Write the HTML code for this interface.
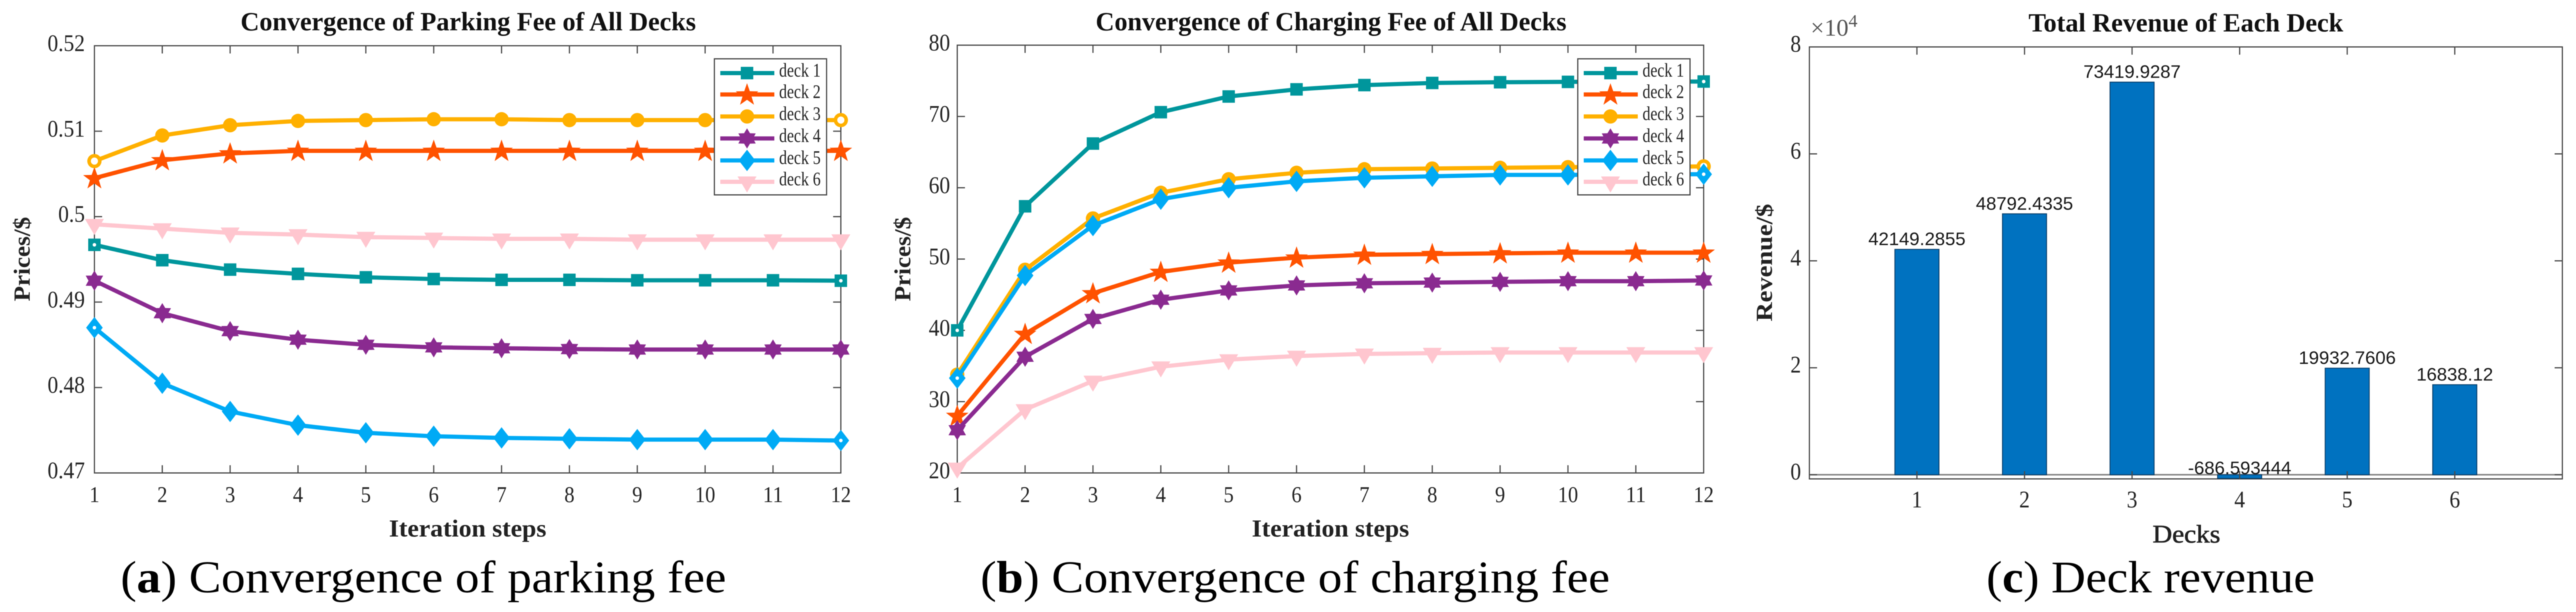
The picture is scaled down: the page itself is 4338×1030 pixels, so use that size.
<!DOCTYPE html>
<html lang="en">
<head>
<meta charset="utf-8">
<title>Convergence of fees and deck revenue</title>
<style>
html,body{margin:0;padding:0;background:#fff;width:4338px;height:1030px;overflow:hidden}
svg{display:block;filter:blur(.7px)}
text{font-family:"Liberation Serif",serif;fill:#262626}
</style>
</head>
<body>
<svg id="figure" xmlns="http://www.w3.org/2000/svg" width="4338" height="1030" viewBox="0 0 4338 1030"></svg>
<script>
const iterationSteps = [1,2,3,4,5,6,7,8,9,10,11,12];
const deckNames = ['deck 1','deck 2','deck 3','deck 4','deck 5','deck 6'];
const deckColors = ['#00969C','#FF5200','#FFB000','#8A2A90','#00AAF5','#FFC6CF'];
const deckMarkers = ['square','star','circle','hexagram','diamond','triangle'];

const parkingDeck1 = [.4967,.4949,.4938,.4933,.4929,.4927,.4926,.4926,.49255,.49255,.49255,.4925];
const parkingDeck2 = [.5045,.5066,.5074,.5077,.5077,.5077,.5077,.5077,.5077,.5077,.5077,.5077];
const parkingDeck3 = [.5065,.5095,.5107,.5112,.5113,.5114,.5114,.5113,.5113,.5113,.5113,.5113];
const parkingDeck4 = [.4925,.4887,.4866,.4856,.485,.4847,.4846,.4845,.48445,.48445,.48445,.48445];
const parkingDeck5 = [.487,.4805,.4772,.4756,.4747,.4743,.4741,.474,.4739,.4739,.4739,.4738];
const parkingDeck6 = [.4991,.4986,.4981,.4979,.4976,.4975,.4974,.4974,.4973,.4973,.4973,.4973];
const parkingTicks = [.47,.48,.49,.5,.51,.52];
const parkingTickLabels = ['0.47','0.48','0.49','0.5','0.51','0.52'];

const chargingDeck1 = [40,57.4,66.2,70.6,72.8,73.8,74.4,74.7,74.8,74.85,74.9,74.9];
const chargingDeck2 = [28,39.5,45.2,48.2,49.5,50.2,50.6,50.7,50.8,50.9,50.9,50.9];
const chargingDeck3 = [33.8,48.5,55.7,59.3,61.2,62.1,62.6,62.7,62.8,62.9,62.9,63];
const chargingDeck4 = [26,36.3,41.6,44.3,45.6,46.3,46.6,46.7,46.8,46.9,46.9,47];
const chargingDeck5 = [33.3,47.7,54.7,58.4,60,60.9,61.4,61.6,61.8,61.8,61.9,61.9];
const chargingDeck6 = [20.7,28.9,32.9,34.9,35.9,36.4,36.7,36.8,36.9,36.9,36.9,36.9];
const chargingTicks = [20,30,40,50,60,70,80];
const chargingTickLabels = ['20','30','40','50','60','70','80'];

const revenueDecks = [1,2,3,4,5,6];
const revenueValues = [42149.2855,48792.4335,73419.9287,-686.593444,19932.7606,16838.12];
const revenueTicks = [0,20000,40000,60000,80000];
const revenueTickLabels = ['0','2','4','6','8'];

const NS = 'http://www.w3.org/2000/svg';
const root = document.getElementById('figure');
const AXIS = '#4a4a4a';

function mk(parent, tag, attrs, name, interactable) {
  const el = document.createElementNS(NS, tag);
  for (const k in attrs) el.setAttribute(k, attrs[k]);
  
  
  parent.appendChild(el);
  return el;
}
function label(parent, name, str, x, y, o) {
  o = o || {};
  const a = {x: x, y: y, 'font-size': o.size || 38, 'text-anchor': o.anchor || 'middle'};
  if (o.weight) a['font-weight'] = o.weight;
  if (o.family) a.style = 'font-family:' + o.family;
  if (o.fill) a.style = (a.style ? a.style + ';' : '') + 'fill:' + o.fill;
  if (o.len) { a.textLength = o.len; a.lengthAdjust = 'spacingAndGlyphs'; }
  if (o.rotate) a.transform = 'rotate(' + o.rotate + ' ' + x + ' ' + y + ')';
  if (o.heavy) { a.stroke = '#222'; a['stroke-width'] = o.heavy; }
  const t = mk(parent, 'text', a, name, false);
  t.textContent = str;
  return t;
}
function numLen(str, size) {
  let w = 0;
  for (const c of str) w += (c === '.' ? .25 : .5);
  return w * size * .9;
}
function radial(cx, cy, points, outer, inner) {
  const out = [];
  for (let i = 0; i < points * 2; i++) {
    const r = i % 2 ? inner : outer;
    const ang = -Math.PI / 2 + i * Math.PI / points;
    out.push((cx + r * Math.cos(ang)).toFixed(1) + ',' + (cy + r * Math.sin(ang)).toFixed(1));
  }
  return out.join(' ');
}
function marker(parent, kind, cx, cy, color, name, hollow) {
  if (kind === 'square') mk(parent, 'rect', {x: cx - 10.5, y: cy - 10.5, width: 21, height: 21, fill: color}, name, false);
  if (kind === 'circle') mk(parent, 'circle', {cx: cx, cy: cy, r: 12, fill: color}, name, false);
  if (kind === 'star') mk(parent, 'polygon', {points: radial(cx, cy + 1, 5, 20, 8), fill: color}, name, false);
  if (kind === 'hexagram') mk(parent, 'polygon', {points: radial(cx, cy, 6, 17, 10), fill: color}, name, false);
  if (kind === 'diamond') mk(parent, 'polygon', {points: [cx, cy - 18, cx + 14, cy, cx, cy + 18, cx - 14, cy].join(' '), fill: color}, name, false);
  if (kind === 'triangle') mk(parent, 'polygon', {points: [cx - 16, cy - 9, cx + 16, cy - 9, cx, cy + 18].join(' '), fill: color}, name, false);
  if (hollow) {
    const r = kind === 'circle' ? 6 : 3;
    if (kind === 'square' || kind === 'circle' || kind === 'diamond') {
      mk(parent, 'circle', {cx: cx, cy: cy, r: r, fill: '#fff'}, name + '-center', false);
    }
  }
}
function frame(g, b) {
  mk(g, 'rect', {x: b.l, y: b.t, width: b.r - b.l, height: b.b - b.t, fill: 'none', stroke: AXIS, 'stroke-width': 2}, 'plot-frame', false);
}
function xTick(g, px, b) {
  mk(g, 'line', {x1: px, x2: px, y1: b.b, y2: b.b - 13, stroke: AXIS, 'stroke-width': 2}, 'x-tick-bottom', false);
  mk(g, 'line', {x1: px, x2: px, y1: b.t, y2: b.t + 13, stroke: AXIS, 'stroke-width': 2}, 'x-tick-top', false);
}
function yTick(g, py, b) {
  mk(g, 'line', {x1: b.l, x2: b.l + 13, y1: py, y2: py, stroke: AXIS, 'stroke-width': 2}, 'y-tick-left', false);
  mk(g, 'line', {x1: b.r, x2: b.r - 13, y1: py, y2: py, stroke: AXIS, 'stroke-width': 2}, 'y-tick-right', false);
}
function lineChart(cfg) {
  const g = mk(root, 'g', {}, cfg.name, false);
  const b = cfg.box;
  const n = iterationSteps.length;
  const X = v => b.l + (v - iterationSteps[0]) / (iterationSteps[n - 1] - iterationSteps[0]) * (b.r - b.l);
  const lo = cfg.yTicks[0], hi = cfg.yTicks[cfg.yTicks.length - 1];
  const Y = v => b.b - (v - lo) / (hi - lo) * (b.b - b.t);
  frame(g, b);
  iterationSteps.forEach(s => {
    xTick(g, X(s), b);
    label(g, 'x-tick-label', String(s), X(s), 845, {size: 38, len: numLen(String(s), 38)});
  });
  cfg.yTicks.forEach((v, i) => {
    yTick(g, Y(v), b);
    const s = cfg.yLabels[i];
    label(g, 'y-tick-label', s, cfg.yLabelRight, Y(v) + 9, {size: 40, anchor: 'end', len: numLen(s, 40)});
  });
  cfg.series.forEach((vals, d) => {
    const sg = mk(g, 'g', {}, 'series-' + deckNames[d].replace(' ', '-'), false);
    const pts = vals.map((v, i) => X(iterationSteps[i]).toFixed(1) + ',' + Y(v).toFixed(1)).join(' ');
    mk(sg, 'polyline', {points: pts, fill: 'none', stroke: deckColors[d], 'stroke-width': 7, 'stroke-linejoin': 'round'}, 'series-line', false);
    vals.forEach((v, i) => {
      marker(sg, deckMarkers[d], X(iterationSteps[i]), Y(v), deckColors[d], 'series-marker', i === 0 || i === n - 1);
    });
  });
  label(g, 'chart-title', cfg.title, cfg.titleX, 51, {size: 44, weight: 'bold', anchor: 'start', len: cfg.titleLen, fill: '#111'});
  label(g, 'x-axis-title', 'Iteration steps', cfg.xTitleX, 903, {size: 41, weight: 'bold', anchor: 'start', len: 265, fill: '#222'});
  label(g, 'y-axis-title', 'Prices/$', cfg.yTitleX, 436, {size: 39, weight: 'bold', len: 142, rotate: -90, fill: '#222'});
  const lg = mk(g, 'g', {}, 'legend', false);
  const lx = cfg.legendX;
  mk(lg, 'rect', {x: lx, y: 99, width: 189, height: 229, fill: '#fff', stroke: AXIS, 'stroke-width': 2}, 'legend-box', false);
  const rows = [123, 159, 196, 233, 270, 306];
  deckNames.forEach((nm, d) => {
    const row = mk(lg, 'g', {}, 'legend-entry', false);
    mk(row, 'line', {x1: lx + 10, x2: lx + 101, y1: rows[d], y2: rows[d], stroke: deckColors[d], 'stroke-width': 7}, 'legend-line', false);
    marker(row, deckMarkers[d], lx + 55, rows[d], deckColors[d], 'legend-marker', false);
    label(row, 'legend-label', nm, lx + 109, rows[d] + 6, {size: 33, anchor: 'start', len: 70});
  });
}

lineChart({
  name: 'parking-fee-chart',
  box: {l: 159, r: 1416, t: 77, b: 796},
  yTicks: parkingTicks, yLabels: parkingTickLabels, yLabelRight: 143,
  series: [parkingDeck1, parkingDeck2, parkingDeck3, parkingDeck4, parkingDeck5, parkingDeck6],
  title: 'Convergence of Parking Fee of All Decks', titleX: 405, titleLen: 767,
  xTitleX: 655, yTitleX: 50, legendX: 1203
});
lineChart({
  name: 'charging-fee-chart',
  box: {l: 1612, r: 2869, t: 76, b: 796},
  yTicks: chargingTicks, yLabels: chargingTickLabels, yLabelRight: 1600,
  series: [chargingDeck1, chargingDeck2, chargingDeck3, chargingDeck4, chargingDeck5, chargingDeck6],
  title: 'Convergence of Charging Fee of All Decks', titleX: 1845, titleLen: 793,
  xTitleX: 2108, yTitleX: 1533, legendX: 2657
});

(function revenueChart() {
  const g = mk(root, 'g', {}, 'revenue-chart', false);
  const b = {l: 3047, r: 4315, t: 79, b: 806};
  const X = v => b.l + v / 7 * (b.r - b.l);
  const Y = v => 799 - v / 80000 * 720;
  frame(g, b);
  mk(g, 'line', {x1: b.l, x2: b.r, y1: Y(0), y2: Y(0), stroke: '#808080', 'stroke-width': 2.5}, 'zero-baseline', false);
  revenueTicks.forEach((v, i) => {
    yTick(g, Y(v), b);
    label(g, 'y-tick-label', revenueTickLabels[i], 3033, Y(v) + 8, {size: 40, anchor: 'end', len: 18});
  });
  const barW = .41 * (b.r - b.l) / 7;
  revenueValues.forEach((v, i) => {
    const px = X(revenueDecks[i]);
    mk(g, 'rect', {x: px - barW / 2, y: Math.min(Y(v), Y(0)), width: barW, height: Math.abs(Y(v) - Y(0)), fill: '#0072C0', stroke: '#0a3f6b', 'stroke-width': 1.5}, 'bar-deck-' + revenueDecks[i], false);
  });
  revenueDecks.forEach(d => {
    xTick(g, X(d), b);
    label(g, 'x-tick-label', String(d), X(d), 854, {size: 40, len: 18});
  });
  revenueValues.forEach((v, i) => {
    const py = v < 0 ? Y(0) - 1 : Y(v) - 7;
    label(g, 'bar-value-label', String(v), X(revenueDecks[i]), py, {size: 31, family: '"Liberation Sans",sans-serif', fill: '#1a1a1a'});
  });
  label(g, 'exponent-base', '×10', 3049, 60, {size: 40, anchor: 'start', len: 64, fill: '#555'});
  label(g, 'exponent-power', '4', 3113, 45, {size: 30, anchor: 'start', len: 15, fill: '#555'});
  label(g, 'chart-title', 'Total Revenue of Each Deck', 3416, 53, {size: 44, weight: 'bold', anchor: 'start', len: 530, fill: '#111'});
  label(g, 'x-axis-title', 'Decks', 3625, 913, {size: 42, anchor: 'start', len: 114, fill: '#222', heavy: .8});
  label(g, 'y-axis-title', 'Revenue/$', 2984, 442, {size: 39, weight: 'bold', len: 198, rotate: -90, fill: '#222'});
})();

function caption(name, letter, rest, x, len) {
  const t = mk(root, 'text', {x: x, y: 997, 'font-size': 76, textLength: len, lengthAdjust: 'spacingAndGlyphs', style: 'fill:#000'}, name, false);
  t.appendChild(document.createTextNode('('));
  const b = mk(t, 'tspan', {'font-weight': 'bold'}, name + '-letter', false);
  b.textContent = letter;
  t.appendChild(document.createTextNode(') ' + rest));
}
caption('caption-a', 'a', 'Convergence of parking fee', 203, 1020);
caption('caption-b', 'b', 'Convergence of charging fee', 1651, 1060);
caption('caption-c', 'c', 'Deck revenue', 3345, 553);
</script>
</body>
</html>
